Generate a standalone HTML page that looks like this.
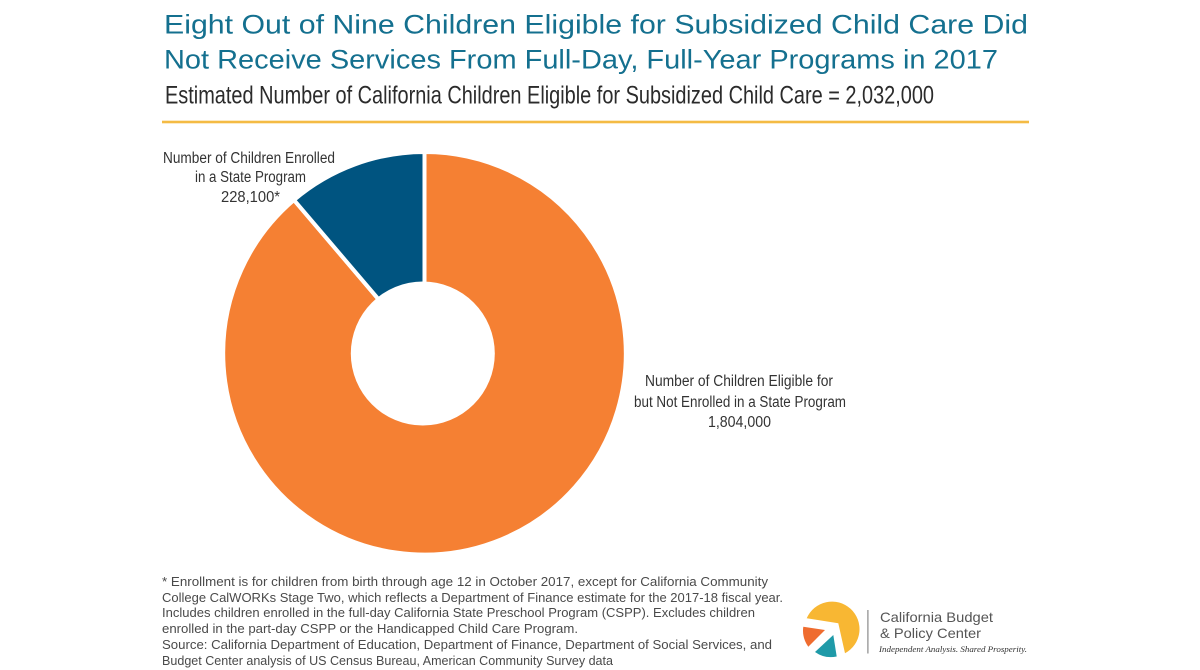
<!DOCTYPE html>
<html lang="en">
<head>
<meta charset="utf-8">
<title>Eight Out of Nine Children Eligible for Subsidized Child Care</title>
<style>
html,body{margin:0;padding:0;background:#fff;}
svg{display:block;font-family:"Liberation Sans",sans-serif;}
</style>
</head>
<body>
<svg id="chart" width="1200" height="670" viewBox="0 0 1200 670" xmlns="http://www.w3.org/2000/svg">
  <rect width="1200" height="670" fill="#ffffff"/>

  <g fill="#14708f" font-size="27">
    <text x="164" y="33.500" textLength="864" lengthAdjust="spacingAndGlyphs">Eight Out of Nine Children Eligible for Subsidized Child Care Did</text>
    <text x="164" y="68.500" textLength="834" lengthAdjust="spacingAndGlyphs">Not Receive Services From Full-Day, Full-Year Programs in 2017</text>
  </g>
  <text x="165" y="103.500" font-size="25" fill="#2b2b2b" textLength="769" lengthAdjust="spacingAndGlyphs">Estimated Number of California Children Eligible for Subsidized Child Care = 2,032,000</text>
  <rect x="162" y="120.700" width="867" height="2.600" fill="#f4bb44"/>

  <g id="slices"></g>
  <circle cx="422.800" cy="353.500" r="72" fill="#ffffff"/>

  <g fill="#333333" font-size="15.500">
    <text x="163" y="163" textLength="172" lengthAdjust="spacingAndGlyphs">Number of Children Enrolled</text>
    <text x="195" y="182" textLength="111" lengthAdjust="spacingAndGlyphs">in a State Program</text>
    <text id="value-enrolled" x="221" y="202" textLength="59" lengthAdjust="spacingAndGlyphs"></text>
  </g>
  <g fill="#333333" font-size="15.500">
    <text x="645" y="386" textLength="188" lengthAdjust="spacingAndGlyphs">Number of Children Eligible for</text>
    <text x="634" y="407" textLength="212" lengthAdjust="spacingAndGlyphs">but Not Enrolled in a State Program</text>
    <text id="value-not-enrolled" x="708" y="427" textLength="63" lengthAdjust="spacingAndGlyphs"></text>
  </g>

  <g fill="#4a4a4a" font-size="12.500">
    <text x="162" y="586" textLength="606" lengthAdjust="spacingAndGlyphs">* Enrollment is for children from birth through age 12 in October 2017, except for California Community</text>
    <text x="162" y="602" textLength="621" lengthAdjust="spacingAndGlyphs">College CalWORKs Stage Two, which reflects a Department of Finance estimate for the 2017-18 fiscal year.</text>
    <text x="162" y="617" textLength="593" lengthAdjust="spacingAndGlyphs">Includes children enrolled in the full-day California State Preschool Program (CSPP). Excludes children</text>
    <text x="162" y="633" textLength="416" lengthAdjust="spacingAndGlyphs">enrolled in the part-day CSPP or the Handicapped Child Care Program.</text>
    <text x="162" y="649" textLength="610" lengthAdjust="spacingAndGlyphs">Source: California Department of Education, Department of Finance, Department of Social Services, and</text>
    <text x="162" y="665" textLength="451" lengthAdjust="spacingAndGlyphs">Budget Center analysis of US Census Bureau, American Community Survey data</text>
  </g>

  <g>
    <path d="M806.700 618.300 A27.500 27.500 0 1 1 845 653.300 L838.300 623.300 Z" fill="#f8b733"/>
    <path d="M803.300 626.700 L825 630 L808.300 646.700 A27.500 27.500 0 0 1 803.300 626.700 Z" fill="#ef6c2f"/>
    <path d="M833.300 635 L836.700 656.500 A27.500 27.500 0 0 1 815 652 Z" fill="#1f9aa8"/>
    <rect x="867.300" y="610" width="1.200" height="43.500" fill="#8a8a8a"/>
    <text x="880" y="622" font-size="14" fill="#555555" textLength="113" lengthAdjust="spacingAndGlyphs">California Budget</text>
    <text x="880" y="638" font-size="14" fill="#555555" textLength="101" lengthAdjust="spacingAndGlyphs">&amp; Policy Center</text>
    <text x="879" y="652" font-size="8.500" font-style="italic" fill="#333333" style="font-family:'Liberation Serif',serif" textLength="148" lengthAdjust="spacingAndGlyphs">Independent Analysis. Shared Prosperity.</text>
  </g>
</svg>
<script>
var categories = ["Eligible but not enrolled", "Enrolled in a state program"];
var seriesValues = [1804000, 228100];
var printedValues = ["1,804,000", "228,100*"];

var NS = "http://www.w3.org/2000/svg";
var cx = 424.5, cy = 353.3, strokeWidth = 4;
var outerR = 199.3 + strokeWidth / 2, innerR = 55;
var sliceColors = ["#f58033", "#005480"];
var total = seriesValues.reduce(function (a, b) { return a + b; }, 0);

function angleScale(v) {
  return v / total * Math.PI * 2;
}
function polar(r, a) {
  return [cx + r * Math.sin(a), cy - r * Math.cos(a)];
}
function arcPath(a0, a1) {
  var large = a1 - a0 > Math.PI ? 1 : 0;
  var p0 = polar(outerR, a0), p1 = polar(outerR, a1);
  var p2 = polar(innerR, a1), p3 = polar(innerR, a0);
  return "M" + p0 + " A" + outerR + " " + outerR + " 0 " + large + " 1 " + p1 +
         " L" + p2 + " A" + innerR + " " + innerR + " 0 " + large + " 0 " + p3 + " Z";
}

var group = document.getElementById("slices");
var running = 0;
seriesValues.forEach(function (v, i) {
  var a0 = running, a1 = running + angleScale(v);
  running = a1;
  var path = document.createElementNS(NS, "path");
  path.setAttribute("d", arcPath(a0, a1));
  path.setAttribute("fill", sliceColors[i]);
  path.setAttribute("stroke", "#ffffff");
  path.setAttribute("stroke-width", strokeWidth);
  path.setAttribute("stroke-linejoin", "miter");
  
  
  var tip = document.createElementNS(NS, "title");
  tip.textContent = categories[i] + ": " + printedValues[i];
  path.appendChild(tip);
  group.appendChild(path);
});

document.getElementById("value-not-enrolled").textContent = printedValues[0];
document.getElementById("value-enrolled").textContent = printedValues[1];
</script>
</body>
</html>
